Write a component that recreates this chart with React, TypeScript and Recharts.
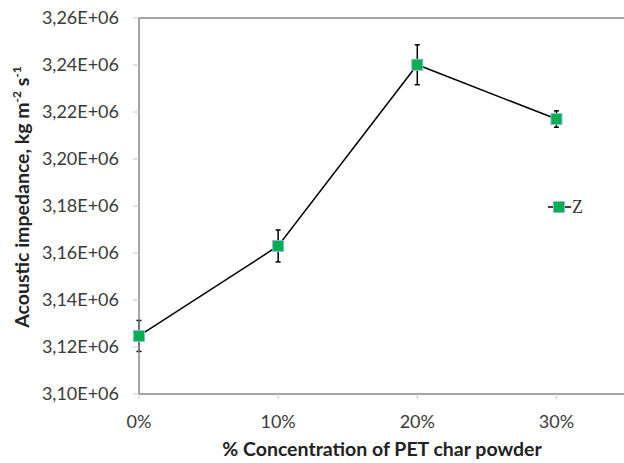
import React from 'react';
import { LineChart, Line, XAxis, YAxis, ErrorBar, ReferenceLine } from 'recharts';

const concentrations = [0, 10, 20, 30];
const impedance = [3124700, 3163000, 3240100, 3217000];
const stdDev = [6600, 6800, 8500, 3500];
const xTicks = [0, 10, 20, 30];
const yTicks = [3100000, 3120000, 3140000, 3160000, 3180000, 3200000, 3220000, 3240000, 3260000];
const seriesName = 'Z';

const data = concentrations.map((c, i) => ({ x: c, z: impedance[i], err: stdDev[i] }));

const FONT = 'Lato, "Open Sans", sans-serif';
const GREEN = '#00b050';

const fmtY = (v: number) => (v / 1e6).toFixed(2).replace('.', ',') + 'E+06';

const SquareDot = (props: any) => {
  const { cx, cy } = props;
  if (cx == null || cy == null) return null;
  return <rect x={cx - 5.5} y={cy - 5.5} width={11} height={11} fill={GREEN} stroke="#8fb8de" strokeWidth={1} />;
};

const renderYTitle = () => (
  <text
    x={29}
    y={197}
    transform="rotate(-90, 29, 197)"
    textAnchor="middle"
    fontFamily={FONT}
    fontWeight={700}
    fontSize={19.5}
    fill="#222"
  >
    Acoustic impedance, kg m<tspan dy={-8} fontSize={12}>-2</tspan>
    <tspan dy={8}> s</tspan>
    <tspan dy={-8} fontSize={12}>-1</tspan>
  </text>
);

const renderXTitle = () => (
  <text x={382} y={456} textAnchor="middle" fontFamily={FONT} fontWeight={700} fontSize={19.5} fill="#222">
    % Concentration of PET char powder
  </text>
);

export default function App() {
  return (
    <div style={{ position: 'absolute', left: 0, top: 0, width: 624, height: 463, overflow: 'hidden', background: '#fff' }}>
      <LineChart width={640} height={463} data={data} margin={{ top: 18, right: 14, bottom: 0, left: 0 }}>
        <XAxis
          dataKey="x"
          type="number"
          domain={[0, 35]}
          ticks={xTicks}
          tickFormatter={(v: number) => `${v}%`}
          height={69}
          stroke="#868686"
          strokeWidth={1.5}
          tickLine={{ stroke: '#c8c8c8', strokeWidth: 1 }}
          tickSize={5}
          tickMargin={16}
          tick={{ fill: '#3a3a3a', fontSize: 18, fontFamily: FONT }}
          label={renderXTitle}
        />
        <YAxis
          type="number"
          domain={[3100000, 3260000]}
          ticks={yTicks}
          tickFormatter={fmtY}
          width={139}
          stroke="#868686"
          strokeWidth={1.5}
          tickLine={{ stroke: '#c8c8c8', strokeWidth: 1 }}
          tickSize={6}
          tickMargin={14}
          tick={{ fill: '#3a3a3a', fontSize: 18, fontFamily: FONT }}
          allowDataOverflow
          label={renderYTitle}
        />
        <ReferenceLine y={3260000} stroke="#868686" strokeWidth={1.5} />
        <Line
          dataKey="z"
          name={seriesName}
          stroke="#000"
          strokeWidth={1.5}
          dot={<SquareDot />}
          activeDot={false}
          isAnimationActive={false}
        >
          <ErrorBar dataKey="err" width={2.5} stroke="#000" strokeWidth={1.5} direction="y" />
        </Line>
      </LineChart>
      <div
        style={{
          position: 'absolute',
          left: 548,
          top: 197,
          display: 'flex',
          alignItems: 'center',
          fontFamily: '"Liberation Serif", serif',
          fontSize: 18,
          color: '#333',
          lineHeight: '20px',
        }}
      >
        <svg width={23} height={14}>
          <line x1={0} y1={7} x2={23} y2={7} stroke="#000" strokeWidth={1.5} />
          <rect x={5.5} y={1.5} width={11} height={11} fill={GREEN} stroke="#8fb8de" strokeWidth={1} />
        </svg>
        <span style={{ marginLeft: 1 }}>{seriesName}</span>
      </div>
    </div>
  );
}
